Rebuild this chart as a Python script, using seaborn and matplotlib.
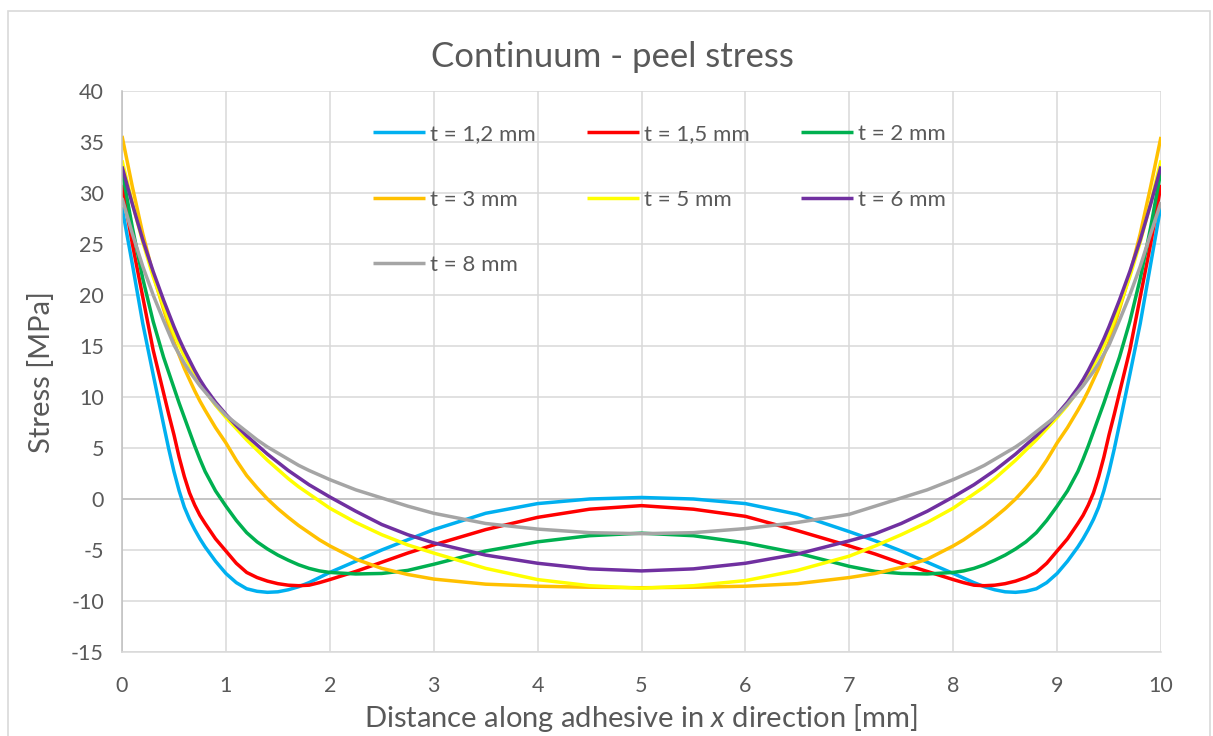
import matplotlib
matplotlib.use("Agg")
import matplotlib.pyplot as plt
import seaborn as sns
import pandas as pd
from matplotlib.patches import Rectangle

# distance along adhesive [mm]
x_mm = [0, 0.1, 0.2, 0.3, 0.4, 0.45, 0.5, 0.55, 0.6, 0.65, 0.7, 0.75, 0.8, 0.9, 1.0,
        1.1, 1.2, 1.3, 1.4, 1.5, 1.6, 1.7, 1.8, 1.9, 2.0, 2.25, 2.5, 2.75, 3.0, 3.5, 4.0, 4.5,
        5.0,
        5.5, 6.0, 6.5, 7.0, 7.25, 7.5, 7.75, 8.0, 8.1, 8.2, 8.3, 8.4, 8.5, 8.6, 8.7, 8.8,
        8.9, 9.0, 9.1, 9.2, 9.25, 9.3, 9.35, 9.4, 9.45, 9.5, 9.55, 9.6, 9.7, 9.8, 9.9, 10.0]

# peel stress [MPa] per adhesive thickness
s_t12 = [28.6, 23.0, 17.2, 12.2, 7.3, 4.9, 2.7, 0.8, -0.8, -2.0, -3.0, -3.9, -4.7, -6.1, -7.3,
         -8.2, -8.8, -9.05, -9.15, -9.1, -8.9, -8.6, -8.2, -7.7, -7.2, -6.1, -5.0, -4.0, -3.0, -1.4, -0.45, 0.0,
         0.15,
         0.0, -0.45, -1.5, -3.2, -4.1, -5.1, -6.2, -7.3, -7.75, -8.2, -8.6, -8.9, -9.1, -9.15, -9.05, -8.8,
         -8.2, -7.3, -6.1, -4.7, -3.9, -3.0, -2.0, -0.8, 0.8, 2.7, 4.9, 7.3, 12.2, 17.2, 23.0, 28.8]
s_t15 = [30.8, 25.0, 19.8, 14.6, 10.4, 8.3, 6.3, 4.1, 2.2, 0.6, -0.6, -1.6, -2.4, -3.9, -5.1,
         -6.3, -7.2, -7.7, -8.05, -8.3, -8.45, -8.5, -8.45, -8.2, -7.9, -7.1, -6.2, -5.3, -4.5, -3.0, -1.8, -1.0,
         -0.65,
         -1.0, -1.7, -3.1, -4.6, -5.4, -6.3, -7.1, -7.9, -8.2, -8.45, -8.5, -8.45, -8.3, -8.05, -7.7, -7.2,
         -6.3, -5.1, -3.9, -2.4, -1.6, -0.6, 0.6, 2.2, 4.1, 6.3, 8.3, 10.4, 14.6, 19.8, 25.0, 30.8]
s_t2 = [32.2, 26.6, 21.6, 17.4, 13.9, 12.4, 10.9, 9.4, 8.0, 6.6, 5.2, 3.9, 2.7, 0.8, -0.7,
        -2.1, -3.3, -4.2, -4.9, -5.5, -6.0, -6.45, -6.8, -7.05, -7.2, -7.35, -7.3, -7.0, -6.4, -5.1, -4.2, -3.6,
        -3.35,
        -3.6, -4.3, -5.3, -6.6, -7.1, -7.3, -7.35, -7.2, -7.05, -6.8, -6.45, -6.0, -5.5, -4.9, -4.2, -3.3,
        -2.1, -0.7, 0.8, 2.7, 3.9, 5.2, 6.6, 8.0, 9.4, 10.9, 12.4, 13.9, 17.4, 21.6, 26.6, 32.2]
s_t3 = [35.6, 30.6, 26.0, 22.0, 18.6, 17.0, 15.4, 14.1, 12.8, 11.7, 10.6, 9.6, 8.7, 7.0, 5.5,
        3.8, 2.3, 1.1, 0.0, -0.95, -1.8, -2.6, -3.3, -4.0, -4.6, -5.9, -6.8, -7.4, -7.85, -8.35, -8.55, -8.65,
        -8.7,
        -8.65, -8.55, -8.3, -7.7, -7.3, -6.7, -5.9, -4.6, -4.0, -3.3, -2.6, -1.8, -0.95, 0.0, 1.1, 2.3,
        3.8, 5.5, 7.0, 8.7, 9.6, 10.6, 11.7, 12.8, 14.1, 15.4, 17.0, 18.6, 22.0, 26.0, 30.6, 35.5]
s_t5 = [33.2, 29.0, 25.2, 21.8, 18.9, 17.5, 16.2, 15.1, 14.0, 13.1, 12.2, 11.4, 10.6, 9.2, 8.0,
        6.9, 5.8, 4.8, 3.8, 2.9, 2.0, 1.2, 0.5, -0.2, -0.9, -2.3, -3.5, -4.5, -5.3, -6.8, -7.9, -8.5,
        -8.75,
        -8.5, -8.0, -7.0, -5.6, -4.6, -3.5, -2.3, -0.9, -0.2, 0.5, 1.2, 2.0, 2.9, 3.8, 4.8, 5.8,
        6.9, 8.0, 9.2, 10.6, 11.4, 12.2, 13.1, 14.0, 15.1, 16.2, 17.5, 18.9, 21.8, 25.2, 29.0, 33.2]
s_t6 = [32.6, 28.9, 25.4, 22.3, 19.5, 18.2, 16.9, 15.7, 14.6, 13.6, 12.6, 11.7, 10.9, 9.5, 8.3,
        7.2, 6.2, 5.3, 4.4, 3.6, 2.8, 2.1, 1.4, 0.8, 0.2, -1.2, -2.5, -3.5, -4.3, -5.5, -6.3, -6.85,
        -7.05,
        -6.85, -6.3, -5.4, -4.1, -3.4, -2.4, -1.2, 0.2, 0.8, 1.4, 2.1, 2.8, 3.6, 4.4, 5.3, 6.2,
        7.2, 8.3, 9.5, 10.9, 11.7, 12.6, 13.6, 14.6, 15.7, 16.9, 18.2, 19.5, 22.3, 25.4, 28.9, 32.6]
s_t8 = [29.5, 26.0, 22.8, 20.0, 17.5, 16.3, 15.1, 14.2, 13.3, 12.5, 11.8, 11.1, 10.5, 9.3, 8.2,
        7.4, 6.6, 5.8, 5.1, 4.5, 3.9, 3.3, 2.8, 2.35, 1.9, 0.9, 0.1, -0.7, -1.4, -2.4, -2.95, -3.3,
        -3.4,
        -3.3, -2.9, -2.3, -1.5, -0.7, 0.1, 0.9, 1.9, 2.35, 2.8, 3.3, 3.9, 4.5, 5.1, 5.8, 6.6,
        7.4, 8.2, 9.3, 10.5, 11.1, 11.8, 12.5, 13.3, 14.2, 15.1, 16.3, 17.5, 20.0, 22.8, 26.0, 29.1]

labels = ["t = 1,2 mm", "t = 1,5 mm", "t = 2 mm", "t = 3 mm", "t = 5 mm", "t = 6 mm", "t = 8 mm"]
series = [s_t12, s_t15, s_t2, s_t3, s_t5, s_t6, s_t8]
colors = ["#00B0F0", "#FF0000", "#00B050", "#FFC000", "#FFFF00", "#7030A0", "#A5A5A5"]

sns.set_style("white")
plt.rcParams['font.family'] = ['Lato', 'DejaVu Sans']
plt.rcParams['mathtext.fontset'] = 'custom'
plt.rcParams['mathtext.rm'] = 'Lato'
plt.rcParams['mathtext.it'] = 'Lato:italic'
plt.rcParams['axes.unicode_minus'] = False

text_col = "#595959"
grid_col = "#D9D9D9"

fig = plt.figure(figsize=(12.13, 7.36), dpi=100)
ax = fig.add_axes([122 / 1213, 1 - 652 / 736, (1161 - 122) / 1213, (652 - 91) / 736])

for lab, vals, col in zip(labels, series, colors):
    df = pd.DataFrame({"x": x_mm, "stress": vals})
    sns.lineplot(data=df, x="x", y="stress", ax=ax, color=col, linewidth=2.5,
                 label=lab, sort=False, estimator=None,
                 solid_joinstyle="round", solid_capstyle="butt")

ax.set_xlim(0, 10)
ax.set_ylim(-15, 40)
ax.set_xticks(range(0, 11))
ax.set_yticks(range(-15, 41, 5))
ax.grid(True, color=grid_col, linewidth=1.1)
ax.set_axisbelow(True)
ax.axhline(0, color="#BFBFBF", linewidth=1.1, zorder=1)
for side in ["top", "right"]:
    ax.spines[side].set_visible(False)
ax.spines["bottom"].set_color(grid_col)
ax.spines["bottom"].set_linewidth(1.1)
ax.spines["left"].set_color("#BFBFBF")
ax.spines["left"].set_linewidth(1.1)
ax.tick_params(axis="both", length=0, labelsize=15.5, labelcolor=text_col)
ax.tick_params(axis="x", pad=17)
ax.tick_params(axis="y", pad=13)
ax.set_xlabel("")
ax.set_ylabel("")

# legend filled row by row (matplotlib fills columns)
handles, labs = ax.get_legend_handles_labels()
order = [0, 3, 6, 1, 4, 2, 5]
leg = ax.legend([handles[i] for i in order], [labs[i] for i in order],
                loc="upper left", bbox_to_anchor=(373 / 1213, 1 - 124 / 736),
                bbox_transform=fig.transFigure, ncol=3, frameon=False,
                fontsize=16, handlelength=2.35, handletextpad=0.22,
                columnspacing=2.3, labelspacing=2.05, borderpad=0, borderaxespad=0)
for t in leg.get_texts():
    t.set_color(text_col)

fig.text(612 / 1213, 1 - 57 / 736, "Continuum - peel stress", ha="center", va="center",
         fontsize=25, color=text_col)
fig.text(42 / 1213, 1 - 372 / 736, "Stress [MPa]", ha="center", va="center",
         rotation=90, fontsize=21, color=text_col)
fig.text(641 / 1213, 1 - 718 / 736, r"Distance along adhesive in $\mathit{x}$ direction [mm]",
         ha="center", va="center", fontsize=21, color=text_col)

# chart area border
fig.patches.append(Rectangle((8 / 1213, -0.02), (1210 - 8) / 1213, 1.02 - 11 / 736,
                             transform=fig.transFigure, fill=False,
                             edgecolor=grid_col, linewidth=1.2))

fig.savefig("out.png", dpi=100)
